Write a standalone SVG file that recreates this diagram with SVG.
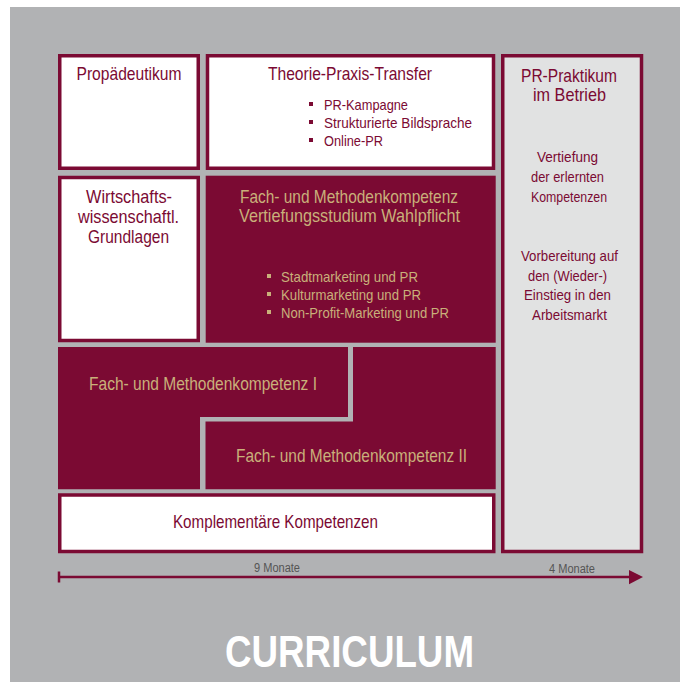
<svg xmlns="http://www.w3.org/2000/svg" width="680" height="682" viewBox="0 0 680 682">
<style>
text{font-family:"Liberation Sans",Arial,sans-serif;text-anchor:middle}
.w{fill:#ffffff;stroke:#7b0a33;stroke-width:3.5}
.g{fill:#e1e2e2;stroke:#7b0a33;stroke-width:3.5}
.d{fill:#7b0a33}
.h{font-size:18.5px;fill:#7b0a33}
.s{font-size:15px;fill:#7b0a33}
.ht{font-size:18.5px;fill:#c9b07a}
.st{font-size:15px;fill:#c9b07a}
.l{text-anchor:start}
.m{font-size:12.5px;fill:#555555}
</style>
<rect x="10" y="7" width="670" height="675" fill="#b1b2b4"/>
<g id="propaedeutikum">
<rect class="w" x="59.75" y="55.75" width="138.5" height="112.5"/>
<text class="h" x="129" y="80" textLength="105" lengthAdjust="spacingAndGlyphs">Propädeutikum</text>
</g>
<g id="theorie">
<rect class="w" x="207.5" y="55.75" width="286" height="112.5"/>
<text class="h" x="350" y="80" textLength="164" lengthAdjust="spacingAndGlyphs">Theorie-Praxis-Transfer</text>
<rect class="d" x="309" y="102" width="4" height="4"/>
<rect class="d" x="309" y="120" width="4" height="4"/>
<rect class="d" x="309" y="138" width="4" height="4"/>
<text class="s l" x="324" y="110" textLength="84" lengthAdjust="spacingAndGlyphs">PR-Kampagne</text>
<text class="s l" x="324" y="128" textLength="148" lengthAdjust="spacingAndGlyphs">Strukturierte Bildsprache</text>
<text class="s l" x="324" y="146" textLength="59" lengthAdjust="spacingAndGlyphs">Online-PR</text>
</g>
<g id="praktikum">
<rect class="g" x="502.75" y="55.75" width="138.75" height="495.75"/>
<text class="h" x="569" y="82" textLength="96" lengthAdjust="spacingAndGlyphs">PR-Praktikum</text>
<text class="h" x="569.5" y="101" textLength="73" lengthAdjust="spacingAndGlyphs">im Betrieb</text>
<text class="s" x="567.5" y="162" textLength="61" lengthAdjust="spacingAndGlyphs">Vertiefung</text>
<text class="s" x="567.5" y="182" textLength="73" lengthAdjust="spacingAndGlyphs">der erlernten</text>
<text class="s" x="569" y="202" textLength="76" lengthAdjust="spacingAndGlyphs">Kompetenzen</text>
<text class="s" x="569.5" y="261" textLength="97" lengthAdjust="spacingAndGlyphs">Vorbereitung auf</text>
<text class="s" x="567.5" y="281" textLength="79" lengthAdjust="spacingAndGlyphs">den (Wieder-)</text>
<text class="s" x="567.5" y="300" textLength="87" lengthAdjust="spacingAndGlyphs">Einstieg in den</text>
<text class="s" x="569.5" y="320" textLength="75" lengthAdjust="spacingAndGlyphs">Arbeitsmarkt</text>
</g>
<g id="wirtschaft">
<rect class="w" x="59.75" y="177.5" width="138.5" height="163"/>
<text class="h" x="129" y="203" textLength="86" lengthAdjust="spacingAndGlyphs">Wirtschafts-</text>
<text class="h" x="128.5" y="223" textLength="101" lengthAdjust="spacingAndGlyphs">wissenschaftl.</text>
<text class="h" x="128.5" y="243" textLength="81" lengthAdjust="spacingAndGlyphs">Grundlagen</text>
</g>
<g id="vertiefung">
<rect class="d" x="205.7" y="175.7" width="290" height="167"/>
<text class="ht" x="349" y="203" textLength="218" lengthAdjust="spacingAndGlyphs">Fach- und Methodenkompetenz</text>
<text class="ht" x="349.5" y="222" textLength="221" lengthAdjust="spacingAndGlyphs">Vertiefungsstudium Wahlpflicht</text>
<rect fill="#c9b07a" x="267" y="274" width="4" height="4"/>
<rect fill="#c9b07a" x="267" y="292" width="4" height="4"/>
<rect fill="#c9b07a" x="267" y="310" width="4" height="4"/>
<text class="st l" x="281" y="282" textLength="137" lengthAdjust="spacingAndGlyphs">Stadtmarketing und PR</text>
<text class="st l" x="281" y="300" textLength="140" lengthAdjust="spacingAndGlyphs">Kulturmarketing und PR</text>
<text class="st l" x="281" y="318" textLength="168" lengthAdjust="spacingAndGlyphs">Non-Profit-Marketing und PR</text>
</g>
<g id="fach1">
<polygon class="d" points="58,347 348,347 348,417 200,417 200,489.3 58,489.3"/>
<text class="ht" x="203" y="390" textLength="228" lengthAdjust="spacingAndGlyphs">Fach- und Methodenkompetenz I</text>
</g>
<g id="fach2">
<polygon class="d" points="353,347 495.7,347 495.7,489.3 205.5,489.3 205.5,421.5 353,421.5"/>
<text class="ht" x="351.5" y="462" textLength="231" lengthAdjust="spacingAndGlyphs">Fach- und Methodenkompetenz II</text>
</g>
<g id="komplementaer">
<rect class="w" x="59.75" y="495" width="434" height="56.5"/>
<text class="h" x="275.5" y="528" textLength="205" lengthAdjust="spacingAndGlyphs">Komplementäre Kompetenzen</text>
</g>
<g id="connectors">
<line x1="58" y1="577" x2="632" y2="577" stroke="#7b0a33" stroke-width="2.5"/>
<line x1="59" y1="571.5" x2="59" y2="582.5" stroke="#7b0a33" stroke-width="2.5"/>
<polygon points="629,570 643,577 629,584.3" fill="#7b0a33"/>
<text class="m" x="277" y="572" textLength="46" lengthAdjust="spacingAndGlyphs">9 Monate</text>
<text class="m" x="572" y="573" textLength="46" lengthAdjust="spacingAndGlyphs">4 Monate</text>
</g>
<text x="349.5" y="667" textLength="249" lengthAdjust="spacingAndGlyphs" style="font-size:44px;font-weight:bold;fill:#ffffff">CURRICULUM</text>
</svg>
